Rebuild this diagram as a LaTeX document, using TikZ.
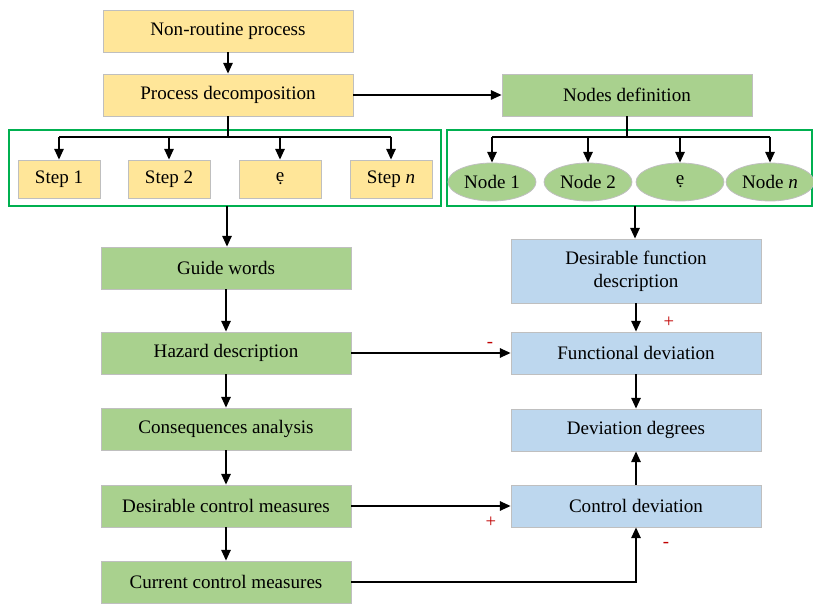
\documentclass[tikz,border=0pt]{standalone}
\usepackage{fontspec}
\setmainfont{Liberation Serif}
\usetikzlibrary{arrows.meta,shapes.geometric}

\definecolor{boxline}{HTML}{BFBFBF}
\definecolor{yelfill}{HTML}{FFE699}
\definecolor{grnfill}{HTML}{A9D18E}
\definecolor{blufill}{HTML}{BDD7EE}
\definecolor{frameline}{HTML}{00B050}
\definecolor{signred}{HTML}{C00000}

\tikzset{
  base/.style={draw=boxline,line width=0.6pt,align=center,inner sep=2pt},
  wide/.style={base,minimum width=187.5pt,minimum height=31.5pt},
  yelbox/.style={wide,fill=yelfill},
  grnbox/.style={wide,fill=grnfill},
  blubox/.style={wide,fill=blufill},
  stepbox/.style={base,fill=yelfill,minimum width=61.5pt,minimum height=28.5pt},
  nodeoval/.style={ellipse,fill=grnfill,draw=boxline,line width=0.6pt,
    minimum width=66pt,minimum height=28.5pt,inner sep=1pt},
  frame/.style={draw=frameline,line width=0.9pt},
  flow/.style={-{Triangle[length=8pt,width=7pt]},line width=1.2pt},
  tree/.style={line width=1.2pt},
  sign/.style={text=signred,font=\fontsize{14}{16}\selectfont}
}

\begin{document}
\begin{tikzpicture}[x=0.75pt,y=-0.75pt,font=\fontsize{14.3}{17}\selectfont]
  \useasboundingbox (0,0) rectangle (813,605);
  % top of the left branch
  \node[yelbox] (nonroutine) at (228,31) {Non-routine process};
  \node[yelbox] (decomp) at (228,95) {Process decomposition};
  \node[grnbox] (nodesdef) at (627,95) {Nodes definition};
  % the two green frames round the steps and the nodes
  \draw[frame] (9,130) rectangle (441,206);
  \draw[frame] (447,130) rectangle (812,206);
  \coordinate (stepsout) at (227,206);
  \coordinate (nodesout) at (635,206);
  % steps
  \node[stepbox] (step1) at (59,179) {Step 1};
  \node[stepbox] (step2) at (169,179) {Step 2};
  \node[stepbox] (stepdots) at (280,179) {ẹ};
  \node[stepbox] (stepn) at (391,179) {Step \textit{n}};
  % nodes
  \node[nodeoval] (node1) at (492,182) {Node 1};
  \node[nodeoval] (node2) at (588,182) {Node 2};
  \node[nodeoval] (nodedots) at (680,182) {ẹ};
  \node[nodeoval] (noden) at (770,182) {Node \textit{n}};
  % left column
  \node[grnbox] (guide) at (226,268) {Guide words};
  \node[grnbox] (hazard) at (226,353) {Hazard description};
  \node[grnbox] (conseq) at (226,429) {Consequences analysis};
  \node[grnbox] (desctrl) at (226,506) {Desirable control measures};
  \node[grnbox] (curctrl) at (226,582) {Current control measures};
  % right column
  \node[blubox,minimum height=48pt] (desfunc) at (636,271) {Desirable function\\description};
  \node[blubox] (funcdev) at (636,353) {Functional deviation};
  \node[blubox] (devdeg) at (636,430) {Deviation degrees};
  \node[blubox] (ctrldev) at (636,506) {Control deviation};
  % branching trees
  \draw[flow] (nonroutine) -- (decomp);
  \draw[flow] (decomp) -- (nodesdef);
  \draw[tree] (decomp.south) -- (228,137);
  \draw[tree] (59,137) -- (391,137);
  \foreach \s/\x in {step1/59,step2/169,stepdots/280,stepn/391}
    \draw[flow] (\x,137) -- (\s.north);
  \draw[tree] (nodesdef.south) -- (627,137);
  \draw[tree] (492,137) -- (770,137);
  \foreach \n/\x in {node1/492,node2/588,nodedots/680,noden/770}
    \draw[flow] (\x,137) -- (\n.north);
  % down the columns
  \draw[flow] (stepsout) -- (guide.north -| stepsout);
  \draw[flow] (guide) -- (hazard);
  \draw[flow] (hazard) -- (conseq);
  \draw[flow] (conseq) -- (desctrl);
  \draw[flow] (desctrl) -- (curctrl);
  \draw[flow] (nodesout) -- (desfunc.north -| nodesout);
  \draw[flow] (desfunc) -- (funcdev);
  \draw[flow] (funcdev) -- (devdeg);
  \draw[flow] (ctrldev) -- (devdeg);
  % across
  \draw[flow] (hazard) -- (funcdev);
  \draw[flow] (desctrl) -- (ctrldev);
  \draw[flow] (curctrl.east) -| (ctrldev.south);
  % signs
  \node[sign] (plusA) at (669,322) {+};
  \node[sign] (minusA) at (490,345) {-};
  \node[sign] (plusB) at (491,522) {+};
  \node[sign] (minusB) at (666,545) {-};
\end{tikzpicture}
\end{document}
